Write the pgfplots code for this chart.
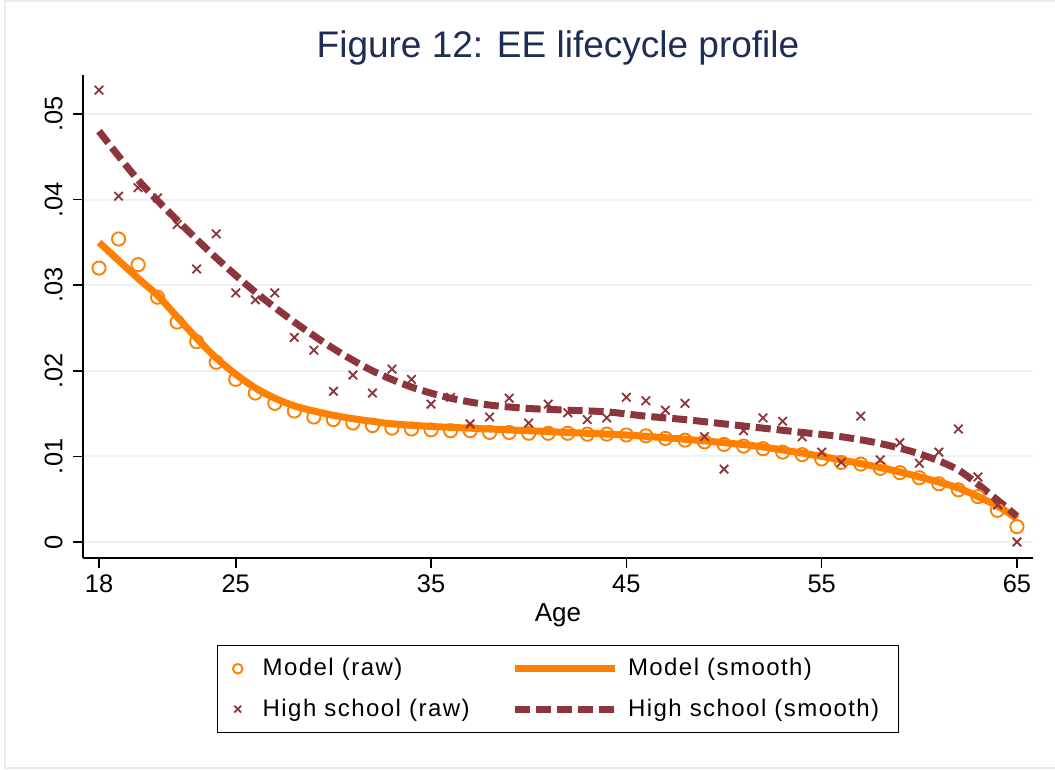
\documentclass[border=0pt]{standalone}
\usepackage{pgfplots}
\pgfplotsset{compat=1.18}
\usepackage{fontspec}
\setmainfont{Liberation Sans}
\definecolor{stOrange}{RGB}{255,128,0}
\definecolor{stMaroon}{RGB}{140,53,60}
\definecolor{titleNavy}{RGB}{30,45,85}
\definecolor{gridc}{RGB}{234,242,243}
\definecolor{framec}{RGB}{232,238,240}
\pgfplotsset{
  lineleg/.style={legend image code/.code={\draw[##1] (0pt,0pt) -- (50pt,0pt);}},
  markleg/.style={legend image code/.code={\path[draw=none] (0pt,0pt) -- (10pt,0pt);\draw[##1, mark size=2.4pt] plot coordinates {(2.5pt,0pt)};}},
}
\begin{document}
\begin{tikzpicture}
\useasboundingbox (-41.5pt,-106pt) rectangle (486pt,279pt);
\draw[framec, line width=1pt] (-39pt,-105pt) rectangle (490pt,278.5pt);
\begin{axis}[
  scale only axis,
  width=475pt, height=241.5pt,
  xmin=17.18, xmax=65.82,
  ymin=-0.00187, ymax=0.05456,
  axis lines=left,
  axis line style={-, line width=0.8pt, black},
  tick align=outside,
  major tick length=5pt,
  tick style={line width=0.8pt, black},
  xtick={18,25,35,45,55,65},
  ytick={0,0.01,0.02,0.03,0.04,0.05},
  yticklabels={0,.01,.02,.03,.04,.05},
  scaled y ticks=false,
  ymajorgrids=true,
  grid style={gridc, line width=1pt},
  /pgf/number format/assume math mode=true,
  tick label style={font=\fontsize{12.7}{14}\selectfont},
  yticklabel style={rotate=90, anchor=south, inner ysep=5pt},
  xlabel={Age},
  xlabel style={font=\fontsize{13}{15}\selectfont, at={(axis description cs:0.5,-0.1325)}, anchor=base},
  clip=false,
  legend columns=2,
  legend cell align=left,
  legend style={
    draw=black, line width=0.6pt,
    font=\fontsize{12}{14}\selectfont\addfontfeature{LetterSpace=6},
    at={(axis description cs:0.5,-0.18)}, anchor=north,
    inner xsep=7.5pt, inner ysep=4.5pt,
    row sep=6pt,
    /tikz/every odd column/.append style={column sep=3pt},
    /tikz/every even column/.append style={column sep=18.7pt},
  },
]
\addplot[only marks, mark=o, mark size=3.3pt, stOrange, mark options={line width=0.95pt}, markleg]
coordinates {
(18,.0320) (19,.0354) (20,.0324) (21,.0286) (22,.0257) (23,.0234) (24,.0210)
(25,.0190) (26,.0174) (27,.0162) (28,.0153) (29,.0146) (30,.0143) (31,.0139)
(32,.0136) (33,.0133) (34,.0132) (35,.0131) (36,.0130) (37,.0130) (38,.0128)
(39,.0128) (40,.0127) (41,.0127) (42,.0127) (43,.0126) (44,.0126) (45,.0125)
(46,.0124) (47,.0121) (48,.0119) (49,.0117) (50,.0114) (51,.0112) (52,.0109)
(53,.0105) (54,.0102) (55,.0097) (56,.0093) (57,.0091) (58,.0086) (59,.0081)
(60,.0075) (61,.0068) (62,.0061) (63,.0053) (64,.0037) (65,.0018)
};
\addlegendentry{Model (raw)}
\addplot[stOrange, line width=3.5pt, smooth, no marks, lineleg]
coordinates {
(18,.0350) (19,.0329) (20,.0308) (21,.0288) (22,.0263) (23,.0238) (24,.0215)
(25,.0196) (26,.0180) (27,.0168) (28,.0159) (29,.0153) (30,.0148) (31,.0144)
(32,.0141) (33,.0138) (35,.0135) (38,.0132) (40,.0130) (43,.0127) (45,.0125)
(48,.0120) (50,.0116) (52,.0111) (55,.0100) (58,.0087) (60,.0076) (62,.0063)
(64,.0042) (65,.0027)
};
\addlegendentry{Model (smooth)}
\addplot[only marks, mark=x, mark size=3pt, stMaroon, mark options={line width=0.9pt}, markleg]
coordinates {
(18,.0528) (19,.0404) (20,.0414) (21,.0402) (22,.0371) (23,.0319) (24,.0360)
(25,.0291) (26,.0283) (27,.0291) (28,.0239) (29,.0224) (30,.0176) (31,.0195)
(32,.0174) (33,.0202) (34,.0190) (35,.0161) (36,.0169) (37,.0138) (38,.0146)
(39,.0168) (40,.0139) (41,.0161) (42,.0151) (43,.0143) (44,.0145) (45,.0169)
(46,.0165) (47,.0154) (48,.0162) (49,.0123) (50,.0085) (51,.0130) (52,.0145)
(53,.0141) (54,.0123) (55,.0105) (56,.0093) (57,.0147) (58,.0096) (59,.0116)
(60,.0092) (61,.0105) (62,.0132) (63,.0076) (64,.0043) (65,.0000)
};
\addlegendentry{High school (raw)}
\addplot[stMaroon, line width=3.5pt, smooth, no marks, dash pattern=on 7.5pt off 3pt, lineleg]
coordinates {
(18,.0480) (20,.0423) (22,.0376) (24,.0332) (26,.0292) (28,.0257) (30,.0226)
(32,.0200) (34,.0181) (36,.0168) (38,.0160) (40,.0156) (42,.0154) (44,.0152)
(46,.0147) (48,.0143) (50,.0138) (52,.0133) (54,.0128) (56,.0123) (58,.0115)
(60,.0103) (62,.0084) (64,.0049) (65,.0030)
};
\addlegendentry{High school (smooth)}
\end{axis}
\node[titleNavy, font=\fontsize{18.5}{22}\selectfont, anchor=base] at (237.5pt,250pt) {Figure 12: EE lifecycle profile};
\end{tikzpicture}
\end{document}
